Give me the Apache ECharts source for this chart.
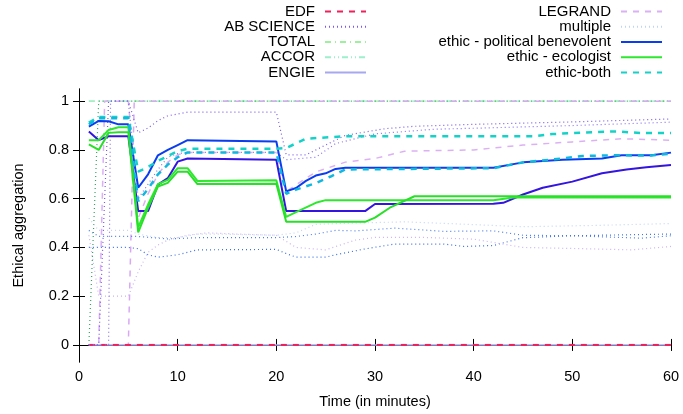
<!DOCTYPE html>
<html>
<head>
<meta charset="utf-8">
<script src="https://cdn.jsdelivr.net/npm/echarts@6.0.0/dist/echarts.min.js"></script>
<style>
  html, body { margin: 0; padding: 0; background: #fff; }
  #chart { width: 683px; height: 414px; }
</style>
</head>
<body>
<div id="chart"></div>
<script>
// [minute, aggregation] pairs
var edf = [[1, 0], [60, 0]];
var engie = [[1, 0], [60, 0]];
var total = [[1, 1], [60, 1]];
var accor = [[1, 1], [60, 1]];
var abScience = [[1, 0], [2, 0], [3, 1], [5, 1], [6, 0.87], [7, 0.89], [8, 0.92], [9, 0.94], [11, 0.955], [20, 0.955],
  [21, 0.78], [23, 0.78], [25, 0.82], [27, 0.86], [31, 0.887], [34, 0.897], [40, 0.905], [50, 0.915], [60, 0.927]];
var abScience2 = [[1, 0], [3, 0], [3.2, 1], [5, 1], [6, 0.6], [7, 0.66], [8, 0.72], [9, 0.77], [10, 0.785], [11, 0.79], [20, 0.79],
  [21, 0.76], [24, 0.77], [26, 0.826], [30, 0.866], [36, 0.885], [40, 0.889], [50, 0.9], [60, 0.914]];
var legrand = [[1, 0], [2, 0], [2.6, 1], [5, 1], [6, 0.52], [7, 0.62], [8, 0.7], [9, 0.75], [10, 0.78], [11, 0.79], [20, 0.79],
  [21, 0.63], [24, 0.71], [27, 0.75], [30, 0.765], [33, 0.795], [40, 0.8], [45, 0.82], [50, 0.833], [55, 0.846], [60, 0.84]];
var legrand2 = [[1, 0], [5, 0], [5.6, 1], [60, 1]];
var greenDots = [[1, 0], [2, 1], [60, 1]];
var multiple = [[1, 0.52], [2, 0.47], [5, 0.47], [6, 0.455], [8, 0.44], [10, 0.44], [12, 0.455], [14, 0.455], [20, 0.45],
  [22, 0.46], [24, 0.495], [28, 0.5], [33, 0.505], [38, 0.497], [45, 0.485], [52, 0.49], [60, 0.498]];
var multiple2 = [[1, 0.47], [2, 0.445], [6, 0.445], [9, 0.435], [12, 0.44], [20, 0.44], [22, 0.445], [24, 0.455], [26, 0.47],
  [28, 0.468], [32, 0.479], [37, 0.466], [42, 0.468], [45, 0.45], [50, 0.448], [57, 0.438], [60, 0.448]];
var multiple3 = [[1, 0.4], [5, 0.4], [6, 0.395], [7, 0.37], [8, 0.36], [10, 0.37], [12, 0.39], [20, 0.392], [21, 0.375],
  [22, 0.36], [25, 0.36], [26, 0.37], [29, 0.394], [32, 0.414], [37, 0.414], [39, 0.404], [42, 0.408], [45, 0.44], [50, 0.448], [60, 0.455]];
var multiple4 = [[1, 0.45], [2, 0.2], [5, 0.2], [6, 0.3], [7, 0.38], [8, 0.41], [9, 0.43], [11, 0.45], [13, 0.46], [16, 0.455],
  [20, 0.45], [22, 0.4], [25, 0.39], [28, 0.43], [30, 0.441], [35, 0.441], [40, 0.434], [45, 0.4], [52, 0.394], [56, 0.39], [60, 0.404]];
var benevolent = [[1, 0.896], [2, 0.919], [3, 0.918], [4, 0.905], [5, 0.905], [6, 0.645], [7, 0.7], [8, 0.778], [9, 0.8],
  [10, 0.82], [11, 0.84], [20, 0.835], [21, 0.63], [22, 0.644], [23, 0.673], [24, 0.695], [25, 0.704], [26, 0.722], [27, 0.727],
  [42, 0.727], [45, 0.749], [49, 0.76], [53, 0.765], [55, 0.778], [58, 0.778], [60, 0.789]];
var benevolent2 = [[1, 0.876], [2, 0.84], [3, 0.856], [5, 0.856], [6, 0.549], [7, 0.549], [8, 0.658], [9, 0.684], [10, 0.752],
  [11, 0.765], [20, 0.76], [21, 0.549], [29, 0.549], [30, 0.578], [42, 0.579], [43, 0.583], [45, 0.617], [47, 0.645], [50, 0.67],
  [53, 0.704], [55.5, 0.72], [57.5, 0.729], [60, 0.738]];
var ecologist = [[1, 0.84], [2, 0.84], [3, 0.882], [4, 0.893], [5, 0.893], [6, 0.482], [7, 0.576], [8, 0.66], [9, 0.677],
  [10, 0.725], [11, 0.725], [12, 0.673], [20, 0.676], [21, 0.525], [22, 0.545], [24, 0.583], [25, 0.594], [42, 0.594], [44, 0.605], [60, 0.605]];
var ecologist2 = [[1, 0.823], [2, 0.8], [3, 0.87], [4, 0.873], [5, 0.873], [6, 0.462], [7, 0.563], [8, 0.65], [9, 0.665],
  [10, 0.711], [11, 0.711], [12, 0.66], [20, 0.661], [21, 0.505], [29, 0.505], [30, 0.522], [31.5, 0.563], [34, 0.61], [60, 0.61]];
var both = [[1, 0.912], [2, 0.935], [5, 0.935], [6, 0.711], [7, 0.73], [8, 0.755], [9, 0.775], [10, 0.795], [11, 0.805],
  [20, 0.805], [21, 0.808], [23, 0.846], [24.5, 0.85], [27, 0.856], [46, 0.856], [48, 0.865], [52, 0.873], [54.5, 0.876], [57, 0.869], [60, 0.869]];
var both2 = [[1, 0.905], [2, 0.93], [5, 0.93], [6, 0.59], [7, 0.64], [8, 0.7], [9, 0.74], [10, 0.77], [11, 0.79], [20, 0.79],
  [21, 0.62], [22, 0.637], [24, 0.664], [25.5, 0.691], [27, 0.72], [42, 0.725], [45, 0.749], [49, 0.765], [51, 0.775],
  [54.5, 0.778], [58, 0.777], [60, 0.785]];

var yTicks = [0, 0.2, 0.4, 0.6, 0.8, 1];
var legendLeft = ['EDF', 'AB SCIENCE', 'TOTAL', 'ACCOR', 'ENGIE'];
var legendRight = ['LEGRAND', 'multiple', 'ethic - political benevolent', 'ethic - ecologist', 'ethic-both'];

var font = 'Liberation Sans, Arial, sans-serif';

function line(name, data, color, width, dash) {
  return {
    name: name,
    type: 'line',
    data: data,
    symbol: 'none',
    silent: true,
    emphasis: { disabled: true },
    itemStyle: { color: color },
    lineStyle: { color: color, width: width, type: dash || 'solid' }
  };
}

function legend(names, right) {
  return {
    data: names,
    orient: 'vertical',
    align: 'right',
    right: right,
    top: 4,
    padding: 0,
    itemWidth: 41,
    itemHeight: 10,
    itemGap: 0,
    selectedMode: false,
    itemStyle: { opacity: 0 },
    textStyle: { fontFamily: font, fontSize: 15, color: '#000', lineHeight: 15.2, padding: [0, 5, 0, 0] }
  };
}

var dotted = [1, 3];
var myChart = echarts.init(document.getElementById('chart'));
var option = {
  animation: false,
  backgroundColor: '#fff',
  textStyle: { fontFamily: font },
  legend: [legend(legendLeft, 316), legend(legendRight, 20)],
  grid: { left: 79, right: 12, top: 89, bottom: 48, containLabel: false },
  xAxis: [{
    type: 'value', min: 0, max: 60, interval: 10,
    name: 'Time (in minutes)', nameLocation: 'middle', nameGap: 32,
    nameTextStyle: { fontFamily: font, fontSize: 14.5, color: '#000' },
    axisLine: { show: true, lineStyle: { color: '#000', width: 1 } },
    axisTick: { inside: true, length: 6, lineStyle: { color: '#000' } },
    axisLabel: { fontFamily: font, fontSize: 14.5, color: '#000', margin: 7 },
    splitLine: { show: false }
  }, {
    type: 'value', position: 'top', min: 0, max: 60, interval: 10,
    axisLine: { show: true, lineStyle: { color: '#000', width: 1 } },
    axisTick: { inside: true, length: 6, lineStyle: { color: '#000' } },
    axisLabel: { show: false },
    splitLine: { show: false }
  }],
  yAxis: [{
    type: 'value', min: -0.07, max: 1.05,
    name: 'Ethical aggregation', nameLocation: 'middle', nameGap: 53,
    nameTextStyle: { fontFamily: font, fontSize: 14.5, color: '#000' },
    axisLine: { show: true, lineStyle: { color: '#000', width: 1 } },
    axisTick: { inside: true, length: 6, customValues: yTicks, lineStyle: { color: '#000' } },
    axisLabel: {
      customValues: yTicks, fontFamily: font, fontSize: 14.5, color: '#000', margin: 10,
      formatter: function (v) { return String(+(+v).toFixed(1)); }
    },
    splitLine: { show: false }
  }, {
    type: 'value', position: 'right', min: -0.07, max: 1.05,
    axisLine: { show: true, lineStyle: { color: '#000', width: 1 } },
    axisTick: { inside: true, length: 6, customValues: yTicks, lineStyle: { color: '#000' } },
    axisLabel: { show: false },
    splitLine: { show: false }
  }],
  series: [
    line('ENGIE', engie, '#a8a8f0', 1.5),
    line('TOTAL', total, '#9ef09e', 1.2, [6, 4, 1, 4]),
    line('ACCOR', accor, '#9cf0cc', 1.2, [6, 3, 1, 3, 1, 3]),
    line('g-dots', greenDots, '#30a860', 1.2, dotted),
    line('LEGRAND', legrand, '#dcb0f4', 1.5, [6, 6]),
    line('legrand2', legrand2, '#d8a8f4', 1.5, [6, 6]),
    line('EDF', edf, '#f0205a', 2, [6, 6]),
    line('multiple', multiple, '#c0d4f8', 1.2, dotted),
    line('multiple2', multiple2, '#4a80ec', 1.2, dotted),
    line('multiple3', multiple3, '#3a70e8', 1.2, dotted),
    line('multiple4', multiple4, '#c8b4f4', 1.2, dotted),
    line('AB SCIENCE', abScience, '#7a5af0', 1.2, dotted),
    line('abScience2', abScience2, '#8c70f0', 1.2, dotted),
    line('ethic - political benevolent', benevolent, '#0a3cf0', 2),
    line('benevolent2', benevolent2, '#3414e0', 2),
    line('ethic - ecologist', ecologist, '#2ee82e', 2),
    line('ecologist2', ecologist2, '#28e028', 2),
    line('ethic-both', both, '#14d2c8', 2.5, [6, 6]),
    line('both2', both2, '#10b8e0', 2.5, [6, 6])
  ]
};
myChart.setOption(option);
</script>
</body>
</html>
